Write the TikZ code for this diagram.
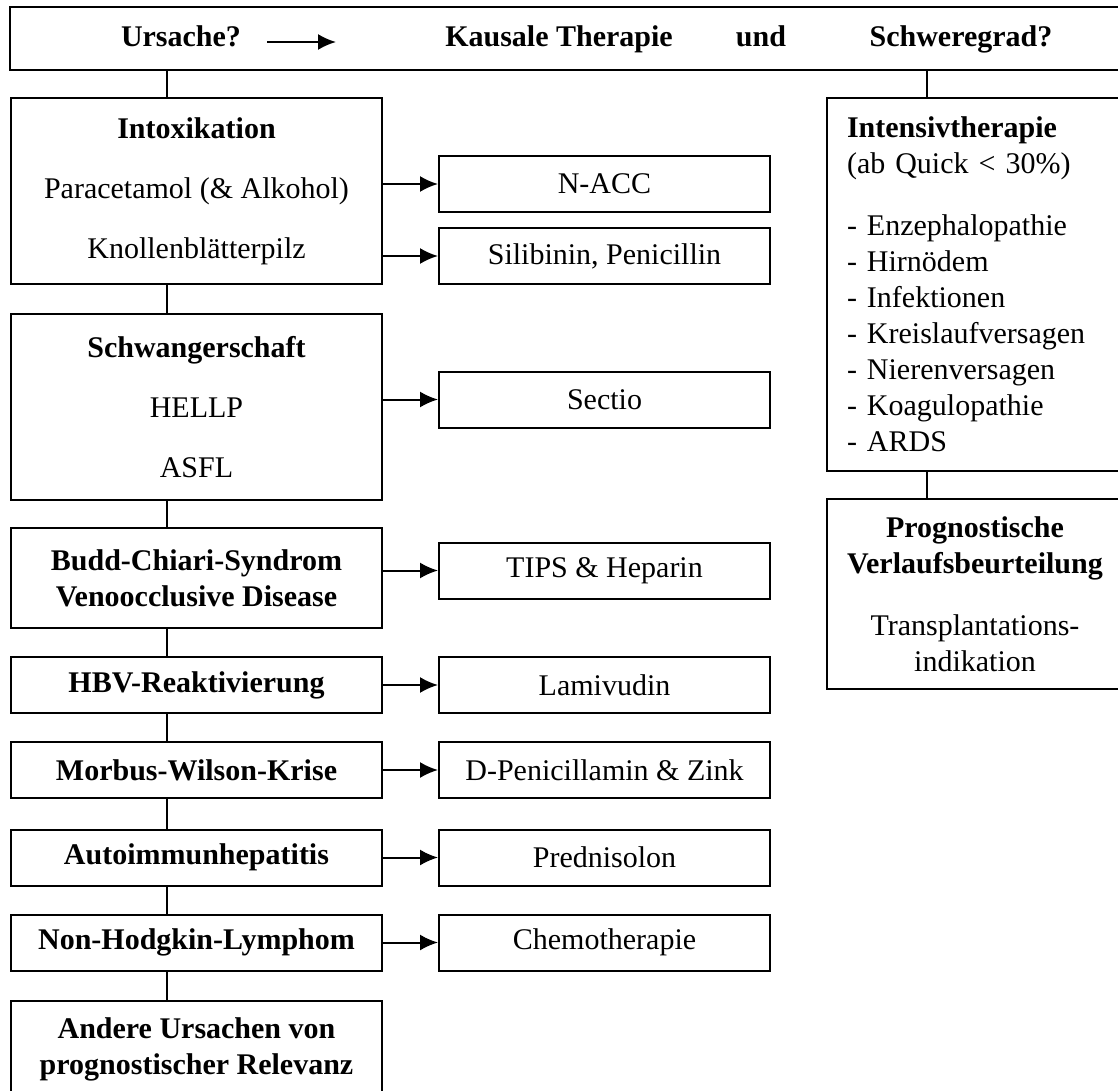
\documentclass[tikz,border=0pt]{standalone}
\usepackage{fontspec}
\setmainfont{Liberation Serif}
\usetikzlibrary{arrows.meta}

\begin{document}
\begin{tikzpicture}
[x=0.5pt,y=-0.5pt,
  lineDecorate/.style={-,line width=1pt},%
  arrowDecorate/.style={-{Latex[length=9pt,width=8pt]},line width=1pt},%
  headDecorate/.style={anchor=base,inner sep=0pt,font=\fontsize{15}{18}\selectfont\bfseries},%
  causeDecorate/.style={draw,line width=1pt,minimum width=185.5pt,align=center,inner sep=0pt,font=\fontsize{15}{18}\selectfont\bfseries},%
  therapyDecorate/.style={draw,line width=1pt,minimum width=165.5pt,minimum height=28pt,align=center,inner sep=0pt,font=\fontsize{15}{18}\selectfont},%
  gradeDecorate/.style={draw,line width=1pt,inner xsep=10pt,inner ysep=0pt,font=\fontsize{15}{18}\selectfont}]
\useasboundingbox (0,0) rectangle (1118,1091);
\fill[white] (0,0) rectangle (1118,1091);
\clip (0,0) rectangle (1118,1091);
%% header row
\node (header) at (566.5,38.5) [draw,line width=1pt,minimum width=556.5pt,minimum height=31.5pt] {};
\node (ursache) at (181,47) [headDecorate] {Ursache?};
\node (kausal) at (559,47) [headDecorate] {Kausale Therapie};
\node (und) at (761,47) [headDecorate] {und};
\node (grad) at (961,47) [headDecorate] {Schweregrad?};
\coordinate (ursacheTip) at (336,42);
\draw[arrowDecorate,shorten <=13pt] (ursache.east |- ursacheTip) -- (ursacheTip);
%% causes (left column)
\foreach \nodename/\y/\h/\boxtext in {
  intox/191/93/{Intoxikation\\[12pt]\textmd{Paracetamol (\& Alkohol)}\\[12pt]\textmd{Knollenblätterpilz}},
  schw/407/93/{Schwangerschaft\\[12pt]\textmd{HELLP}\\[12pt]\textmd{ASFL}},
  budd/578/50/{Budd-Chiari-Syndrom\\Venoocclusive Disease},
  hbv/685/28/{HBV-Reaktivierung},
  wilson/770/28/{Morbus-Wilson-Krise},
  aih/857.5/28/{Autoimmunhepatitis},
  nhl/942.5/28/{Non-Hodgkin-Lymphom},
  andere/1049.5/48.5/{Andere Ursachen von\\prognostischer Relevanz}}
{
  \node (\nodename) at (196.5,\y) [causeDecorate,minimum height=\h pt] {\boxtext};
}
%% therapies (middle column)
\foreach \nodename/\y/\boxtext in {
  nacc/184/{N-ACC}, sili/256/{Silibinin, Penicillin}, sectio/399.5/{Sectio},
  tips/570.5/{TIPS \& Heparin}, lami/685/{Lamivudin},
  dpen/770/{D-Penicillamin \& Zink}, pred/857.5/{Prednisolon},
  chemo/942.5/{Chemotherapie}}
{
  \node (\nodename) at (604.5,\y) [therapyDecorate] {\boxtext};
}
%% severity (right column)
\node (intens) at (975,284.5) [gradeDecorate,text width=128pt,align=left,minimum height=186.5pt]
  {\textbf{Intensivtherapie}\\(ab Quick < 30\%)\\[13pt]- Enzephalopathie\\- Hirnödem\\- Infektionen\\
   - Kreislaufversagen\\- Nierenversagen\\- Koagulopathie\\- ARDS};
\node (prog) at (975,594) [gradeDecorate,text width=128pt,align=center,minimum height=95pt]
  {\textbf{Prognostische}\\\textbf{Verlaufsbeurteilung}\\[13pt]Transplantations-\\indikation};
%% connectors
\coordinate (spineL) at (167,0);
\coordinate (spineR) at (927,0);
\foreach \upper/\lower in {header/intox, intox/schw, schw/budd, budd/hbv,
  hbv/wilson, wilson/aih, aih/nhl, nhl/andere}
{
  \draw[lineDecorate] (\upper.south -| spineL) -- (\lower.north -| spineL);
}
\foreach \upper/\lower in {header/intens, intens/prog}
{
  \draw[lineDecorate] (\upper.south -| spineR) -- (\lower.north -| spineR);
}
\foreach \startnode/\endnode in {intox/nacc, intox/sili, schw/sectio, budd/tips,
  hbv/lami, wilson/dpen, aih/pred, nhl/chemo}
{
  \draw[arrowDecorate] (\startnode.east |- \endnode.west) -- (\endnode.west);
}
\end{tikzpicture}
\end{document}
